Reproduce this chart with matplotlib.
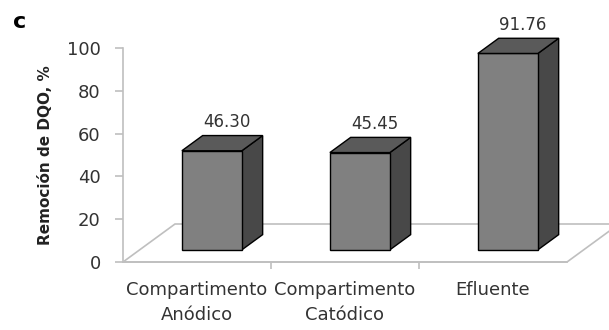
import matplotlib
matplotlib.use("Agg")
import matplotlib.pyplot as plt
from matplotlib.patches import Polygon

categories = ["Compartimento\nAnódico", "Compartimento\nCatódico", "Efluente"]
values = [46.30, 45.45, 91.76]
value_labels = ["46.30", "45.45", "91.76"]
yticks = [0, 20, 40, 60, 80, 100]

W, H = 609, 330
fig = plt.figure(figsize=(W / 100, H / 100), dpi=100)
# axes box in pixels: x 123..567, y 48..262 (from top)
ax = fig.add_axes([123 / W, (H - 262) / H, (567 - 123) / W, (262 - 48) / H])
ax.set_xlim(-0.5, 2.5)
ax.set_ylim(0, 100)

px_x = (567 - 123) / 3.0      # pixels per category unit
px_y = (262 - 48) / 100.0     # pixels per value unit
# depth vector (full floor depth) in data units
DX = 52 / px_x
DY = 38 / px_y
z0, z1 = 0.32, 0.72           # bar front/back depth fractions
bw = 60 / px_x                # bar width

edge_gray = "#bfbfbf"
# floor parallelogram
floor = Polygon([(-0.5, 0), (2.5, 0), (2.5 + DX, DY), (-0.5 + DX, DY)],
                closed=True, fill=False, edgecolor=edge_gray, lw=1.2,
                clip_on=False, zorder=1)
ax.add_patch(floor)

front_c, top_c, side_c = "#808080", "#5a5a5a", "#484848"
for i, v in enumerate(values):
    x0 = i - bw / 2 + z0 * DX - 0.012
    x1 = x0 + bw
    yb = z0 * DY
    yt = yb + v
    ddx = (z1 - z0) * DX
    ddy = (z1 - z0) * DY
    front = Polygon([(x0, yb), (x1, yb), (x1, yt), (x0, yt)], closed=True,
                    facecolor=front_c, edgecolor="black", lw=1.0,
                    clip_on=False, zorder=3)
    top = Polygon([(x0, yt), (x1, yt), (x1 + ddx, yt + ddy), (x0 + ddx, yt + ddy)],
                  closed=True, facecolor=top_c, edgecolor="black", lw=1.0,
                  clip_on=False, zorder=3)
    side = Polygon([(x1, yb), (x1 + ddx, yb + ddy), (x1 + ddx, yt + ddy), (x1, yt)],
                   closed=True, facecolor=side_c, edgecolor="black", lw=1.0,
                   clip_on=False, zorder=3)
    for p in (side, front, top):
        ax.add_patch(p)
    ax.text(x0 + bw / 2 + ddx / 2 + 0.03, yt + ddy + 2.0, value_labels[i],
            ha="center", va="bottom", fontsize=12, color="#333333",
            family="DejaVu Sans", zorder=4)

for s in ("top", "right"):
    ax.spines[s].set_visible(False)
for s in ("left", "bottom"):
    ax.spines[s].set_color(edge_gray)
    ax.spines[s].set_linewidth(1.2)

ax.set_yticks(yticks)
ax.set_yticklabels([str(t) for t in yticks], fontsize=13, color="#333333")
ax.tick_params(axis="y", length=6, color=edge_gray, width=1.2, pad=10)

ax.set_xticks(range(len(categories)))
ax.set_xticklabels(categories, fontsize=13, color="#333333", linespacing=1.45)
ax.tick_params(axis="x", length=0, pad=14)
ax.set_xticks([0.5, 1.5], minor=True)
ax.tick_params(axis="x", which="minor", length=5, color=edge_gray, width=1.2)

ax.set_ylabel("Remoción de DQO, %", fontsize=11, fontweight="bold",
              color="#222222", labelpad=10)
fig.text(20 / W, 1 - 22 / H, "c", fontsize=16, fontweight="bold",
         ha="center", va="center")

fig.savefig("out.png", dpi=100)
